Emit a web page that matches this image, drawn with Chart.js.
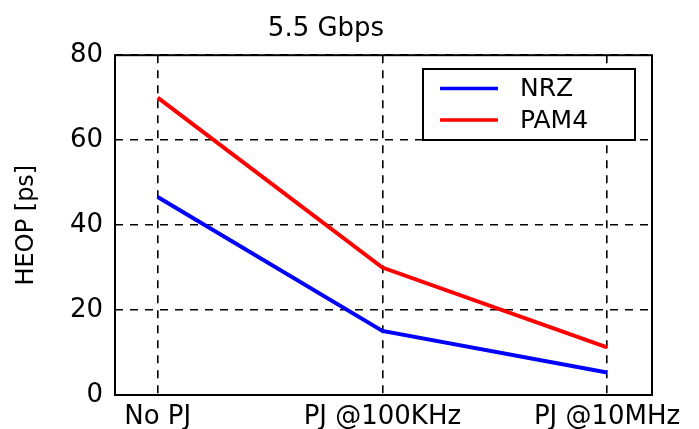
<!DOCTYPE html>
<html>
<head>
<meta charset="UTF-8">
<title>5.5 Gbps</title>
<script src="https://cdn.jsdelivr.net/npm/chart.js"></script>
<style>
  html, body { margin: 0; padding: 0; background: #fff; }
  #wrap { width: 699px; height: 429px; }
</style>
</head>
<body>
<div id="wrap"><canvas id="c" width="699" height="429"></canvas></div>
<script>
// data
const categories = ['No PJ', 'PJ @100KHz', 'PJ @10MHz'];
const nrz = [46.6, 15.1, 5.3];
const pam4 = [70, 30, 11.2];
const yTicks = [0, 20, 40, 60, 80];

const FONT = '"DejaVu Sans", Arial, sans-serif';
const toPoints = vals => vals.map((v, i) => ({ x: i, y: v }));

// plot frame (solid box) + boxed legend, MATLAB style
const framePlugin = {
    id: 'frame',
    afterDraw(chart) {
        const { ctx, chartArea: a } = chart;
        ctx.save();
        ctx.strokeStyle = '#000';
        ctx.lineWidth = 2;
        ctx.strokeRect(a.left, a.top, a.right - a.left, a.bottom - a.top);

        // legend box
        const lx = 423, ly = 69, lw = 212, lh = 71;
        ctx.fillStyle = '#fff';
        ctx.fillRect(lx, ly, lw, lh);
        ctx.strokeRect(lx, ly, lw, lh);
        ctx.font = '25px ' + FONT;
        ctx.textBaseline = 'middle';
        ctx.textAlign = 'left';
        chart.data.datasets.forEach((ds, i) => {
            const yy = 88.5 + i * 31.5;
            ctx.strokeStyle = ds.borderColor;
            ctx.lineWidth = 3.5;
            ctx.beginPath();
            ctx.moveTo(440, yy);
            ctx.lineTo(498, yy);
            ctx.stroke();
            ctx.fillStyle = '#000';
            ctx.fillText(ds.label, 520, yy + 1);
        });
        ctx.restore();
    }
};

new Chart(document.getElementById('c'), {
    type: 'line',
    data: {
        datasets: [
            { label: 'NRZ', data: toPoints(nrz), borderColor: '#0000ff', borderWidth: 4, pointRadius: 0, tension: 0 },
            { label: 'PAM4', data: toPoints(pam4), borderColor: '#ff0000', borderWidth: 4, pointRadius: 0, tension: 0 }
        ]
    },
    options: {
        responsive: false,
        animation: false,
        layout: { padding: { left: 0, right: 47, top: 0, bottom: 0 } },
        plugins: {
            legend: { display: false },
            tooltip: { enabled: false },
            title: {
                display: true,
                text: '5.5 Gbps',
                color: '#000',
                font: { family: FONT, size: 26, weight: 'normal' },
                padding: { top: 14, bottom: 10 }
            }
        },
        scales: {
            x: {
                type: 'linear',
                min: -0.19,
                max: 2.2,
                afterFit: s => { s.height = 34; },
                afterBuildTicks: s => { s.ticks = categories.map((c, i) => ({ value: i })); },
                ticks: {
                    includeBounds: false,
                    stepSize: 1,
                    autoSkip: false,
                    maxRotation: 0,
                    padding: 7,
                    color: '#000',
                    font: { family: FONT, size: 26 },
                    callback: v => categories[v]
                },
                grid: { color: '#000', lineWidth: 1.6, drawTicks: false },
                border: { display: false, dash: [8, 7] }
            },
            y: {
                min: 0,
                max: 80,
                afterFit: s => { s.width = 115; },
                afterBuildTicks: s => { s.ticks = yTicks.map(v => ({ value: v })); },
                ticks: {
                    padding: 12,
                    color: '#000',
                    font: { family: FONT, size: 26 }
                },
                title: {
                    display: true,
                    text: 'HEOP [ps]',
                    color: '#000',
                    font: { family: FONT, size: 24 },
                    padding: { top: 12, bottom: 0 }
                },
                grid: { color: '#000', lineWidth: 1.6, drawTicks: false },
                border: { display: false, dash: [8, 7] }
            }
        }
    },
    plugins: [framePlugin]
});
</script>
</body>
</html>
